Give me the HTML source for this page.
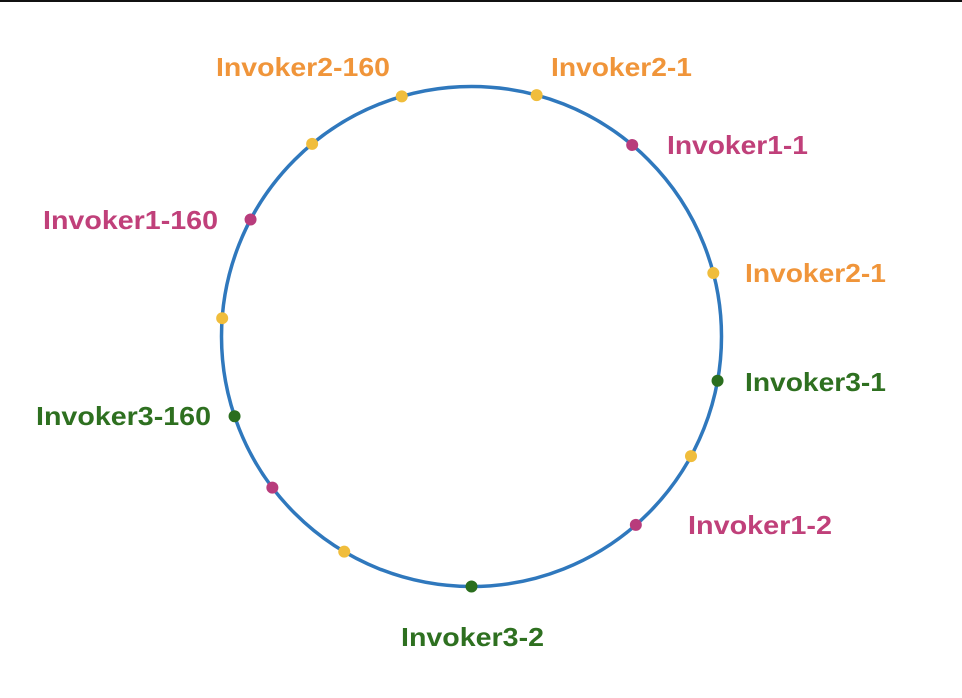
<!DOCTYPE html>
<html><head><meta charset="utf-8"><style>
html,body{margin:0;padding:0;background:#fff;}
svg{display:block;}
text{font-family:"Liberation Sans",Helvetica,Arial,sans-serif;font-weight:bold;font-size:26px;dominant-baseline:central;}
</style></head><body>
<svg id="chart" width="962" height="698" viewBox="0 0 962 698" xmlns="http://www.w3.org/2000/svg">
<rect x="0" y="0" width="962" height="2" fill="#111"/>
<circle cx="471.5" cy="336.5" r="250" fill="none" stroke="#2f78bd" stroke-width="3.5"/>
<g id="nodes"></g>
<g id="labels"></g>
</svg>
<script>
const nodeAngles=[15.1,40,75.3,100.2,118.6,138.9,180,210.6,232.8,251.4,274.2,297.9,320.4,343.8];
const nodeGroups=[2,1,2,3,2,1,3,2,1,3,2,1,2,2];
const labelTexts=["Invoker2-160","Invoker2-1","Invoker1-1","Invoker2-1","Invoker3-1","Invoker1-2","Invoker3-2","Invoker3-160","Invoker1-160"];
const labelGroups=[2,2,1,2,3,1,3,3,1];
const labelX=[216,551,667,745,745,688,401,36,43];
const labelY=[67,67,145,273,382,525,637,416,220];
const labelW=[174,141,141,141,141,144,143,175,175];
const dotColor={1:"#b83c7c",2:"#f0bd3c",3:"#2a6e1e"};
const textColor={1:"#c0407a",2:"#f0953a",3:"#2e7020"};
const cx=471.5,cy=336.5,R=250;
const NS="http://www.w3.org/2000/svg";
const ng=document.getElementById('nodes');
nodeAngles.forEach((a,i)=>{
  const t=a*Math.PI/180;
  const c=document.createElementNS(NS,'circle');
  c.setAttribute('cx',cx+R*Math.sin(t));
  c.setAttribute('cy',cy-R*Math.cos(t));
  c.setAttribute('r',6);
  c.setAttribute('fill',dotColor[nodeGroups[i]]);
  
  
  ng.appendChild(c);
});
const lg=document.getElementById('labels');
labelTexts.forEach((s,i)=>{
  const t=document.createElementNS(NS,'text');
  t.setAttribute('x',labelX[i]);
  t.setAttribute('y',labelY[i]);
  t.setAttribute('textLength',labelW[i]);
  t.setAttribute('lengthAdjust','spacingAndGlyphs');
  t.setAttribute('fill',textColor[labelGroups[i]]);
  t.textContent=s;
  
  
  lg.appendChild(t);
});
</script>
</body></html>
